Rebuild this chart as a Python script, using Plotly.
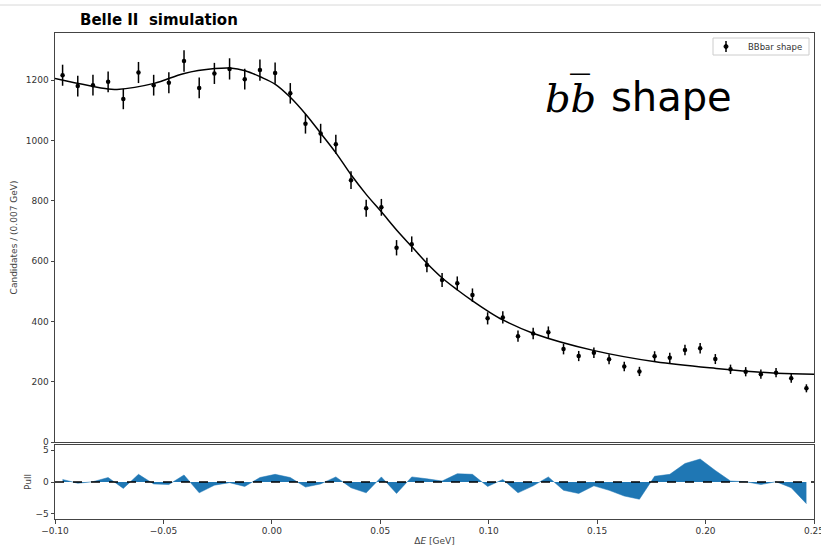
import plotly.graph_objects as go

# ---------------- data ----------------
bin_centers = [-0.0965, -0.0895, -0.0825, -0.0755, -0.0685, -0.0615, -0.0545, -0.0475, -0.0405, -0.0335,
               -0.0265, -0.0195, -0.0125, -0.0055, 0.0015, 0.0085, 0.0155, 0.0225, 0.0295, 0.0365,
               0.0435, 0.0505, 0.0575, 0.0645, 0.0715, 0.0785, 0.0855, 0.0925, 0.0995, 0.1065,
               0.1135, 0.1205, 0.1275, 0.1345, 0.1415, 0.1485, 0.1555, 0.1625, 0.1695, 0.1765,
               0.1835, 0.1905, 0.1975, 0.2045, 0.2115, 0.2185, 0.2255, 0.2325, 0.2395, 0.2465]

counts = [1216, 1180, 1183, 1194, 1137, 1225, 1183, 1191, 1263, 1174,
          1222, 1237, 1203, 1233, 1223, 1156, 1055, 1023, 987, 868,
          775, 778, 644, 656, 587, 537, 526, 487, 410, 413,
          351, 360, 364, 308, 285, 296, 274, 250, 234, 284,
          279, 305, 311, 275, 241, 233, 225, 230, 211, 178]

count_errors = [34.9, 34.4, 34.4, 34.6, 33.7, 35.0, 34.4, 34.5, 35.5, 34.3,
                35.0, 35.2, 34.7, 35.1, 35.0, 34.0, 32.5, 32.0, 31.4, 29.5,
                27.8, 27.9, 25.4, 25.6, 24.2, 23.2, 22.9, 22.1, 20.2, 20.3,
                18.7, 19.0, 19.1, 17.5, 16.9, 17.2, 16.6, 15.8, 15.3, 16.9,
                16.7, 17.5, 17.6, 16.6, 15.5, 15.3, 15.0, 15.2, 14.5, 13.3]

fit_x = [-0.100, -0.0755, -0.0714, -0.0543, -0.0404, -0.0263, -0.0193, -0.0123, -0.0054, 0.0016,
         0.0085, 0.0157, 0.0226, 0.0297, 0.0366, 0.0435, 0.0505, 0.0575, 0.0646, 0.0716,
         0.0787, 0.0856, 0.0927, 0.0996, 0.1067, 0.1207, 0.1487, 0.1769, 0.2049, 0.2327, 0.250]
fit_y = [1205, 1170, 1169, 1189, 1222, 1238, 1240, 1231, 1211, 1186,
         1143, 1086, 1023, 957, 885, 821, 763, 703, 647, 592,
         543, 504, 467, 434, 404, 360, 303, 266, 244, 228, 225]

pulls = [0.4, -0.2, 0.05, 0.7, -1.0, 1.2, -0.3, -0.4, 1.1, -1.7,
         -0.5, -0.1, -0.7, 0.7, 1.2, 0.7, -0.8, -0.3, 0.8, -0.9,
         -1.7, 0.8, -1.8, 0.8, 0.5, 0.15, 1.3, 1.2, -0.7, 0.4,
         -1.7, -0.6, 0.8, -1.3, -1.8, -0.6, -1.3, -2.2, -2.7, 0.9,
         1.2, 2.9, 3.6, 1.8, 0.15, 0.05, -0.4, 0.05, -0.9, -3.4]

x_ticks = [-0.10, -0.05, 0.00, 0.05, 0.10, 0.15, 0.20, 0.25]
x_tick_labels = ["\u22120.10", "\u22120.05", "0.00", "0.05", "0.10", "0.15", "0.20", "0.25"]
y_ticks = [0, 200, 400, 600, 800, 1000, 1200]
pull_ticks = [-5, 0, 5]
pull_tick_labels = ["\u22125", "0", "5"]

# ---------------- figure ----------------
W, H = 821, 549
ml, mr, mt, mb = 55, 7, 33, 30
plot_w = W - ml - mr
plot_h = H - mt - mb
pull_top = (519 - 445) / plot_h
main_bot = (519 - 442) / plot_h


def px(x):
    return (x - ml) / plot_w


def py(y):
    return 1 - (y - mt) / plot_h


fig = go.Figure()

fig.add_trace(go.Scatter(
    x=fit_x, y=fit_y, mode="lines", line=dict(color="black", width=1.5, shape="spline", smoothing=1.0),
    showlegend=False, xaxis="x", yaxis="y", hoverinfo="skip"))

fig.add_trace(go.Scatter(
    x=bin_centers, y=counts, mode="markers", name="BBbar shape",
    marker=dict(color="black", size=4.5),
    error_y=dict(type="data", array=count_errors, color="black", thickness=1.5, width=0),
    showlegend=False, xaxis="x", yaxis="y"))

# pull panel
fig.add_trace(go.Scatter(
    x=bin_centers, y=pulls, mode="lines", fill="tozeroy",
    line=dict(color="#1f77b4", width=0.5), fillcolor="#1f77b4",
    showlegend=False, xaxis="x2", yaxis="y2"))
fig.add_trace(go.Scatter(
    x=[x_ticks[0], x_ticks[-1]], y=[0, 0], mode="lines",
    line=dict(color="black", width=1.5, dash="dash"),
    showlegend=False, xaxis="x2", yaxis="y2"))

axis_font = dict(family="DejaVu Sans", size=9, color="#333")
title_font = dict(family="DejaVu Sans", size=9, color="#444")
common = dict(showgrid=False, zeroline=False, showline=True, linecolor="#444", linewidth=1,
              mirror=True, ticklen=3.5, tickcolor="#444", tickfont=axis_font, automargin=False)

fig.update_layout(
    width=W, height=H,
    margin=dict(l=ml, r=mr, t=mt, b=mb),
    paper_bgcolor="white", plot_bgcolor="white",
    showlegend=False,
    xaxis=dict(range=[-0.10, 0.25], domain=[0, 1], anchor="y", showticklabels=False,
               tickvals=x_ticks, ticks="", **common),
    yaxis=dict(range=[0, 1356], domain=[main_bot, 1], anchor="x", tickvals=y_ticks, ticks="outside",
               title=dict(text="Candidates / (0.007 GeV)", font=title_font, standoff=6),
               **common),
    xaxis2=dict(range=[-0.10, 0.25], domain=[0, 1], anchor="y2", tickvals=x_ticks, ticktext=x_tick_labels,
                ticks="outside", ticklabeloverflow="allow",
                title=dict(text="\u0394<i>E</i> [GeV]", font=title_font, standoff=2),
                **common),
    yaxis2=dict(range=[-5.8, 5.8], domain=[0, pull_top], anchor="x2", tickvals=pull_ticks,
                ticktext=pull_tick_labels, ticks="outside",
                title=dict(text="Pull", font=title_font, standoff=2),
                **common),
)

# title
fig.add_annotation(text="<b>Belle II  simulation</b>", xref="paper", yref="paper",
                   x=px(159), y=py(20), xanchor="center", yanchor="middle",
                   showarrow=False, font=dict(family="DejaVu Sans", size=15, color="black"))

# big label
fig.add_annotation(text="<i>bb\u0305</i>", xref="paper", yref="paper",
                   x=px(598), y=py(97), xanchor="right", yanchor="middle",
                   showarrow=False, font=dict(family="DejaVu Serif", size=40, color="black"))
fig.add_annotation(text="shape", xref="paper", yref="paper",
                   x=px(609), y=py(97), xanchor="left", yanchor="middle",
                   showarrow=False, font=dict(family="DejaVu Sans", size=40, color="black"))

# legend box (matplotlib-style)
fig.add_shape(type="rect", xref="paper", yref="paper",
              x0=px(713), x1=px(809), y0=py(55), y1=py(38),
              line=dict(color="#cccccc", width=1), fillcolor="white")
fig.add_shape(type="line", xref="paper", yref="paper",
              x0=px(726), x1=px(726), y0=py(52), y1=py(41),
              line=dict(color="black", width=1.5))
fig.add_shape(type="circle", xref="paper", yref="paper",
              x0=px(724), x1=px(728), y0=py(48.5), y1=py(44.5),
              line=dict(color="black", width=1), fillcolor="black")
fig.add_annotation(text="BBbar shape", xref="paper", yref="paper",
                   x=px(746), y=py(46.5), xanchor="left", yanchor="middle",
                   showarrow=False, font=dict(family="DejaVu Sans", size=8.5, color="#333"))

# light slide border line at top
fig.add_shape(type="line", xref="paper", yref="paper",
              x0=px(0), x1=px(W), y0=py(5), y1=py(5),
              line=dict(color="#d8d8d8", width=1))

fig.write_html("out.html", config={"displayModeBar": False},
               post_script="document.body.style.margin='0';")
